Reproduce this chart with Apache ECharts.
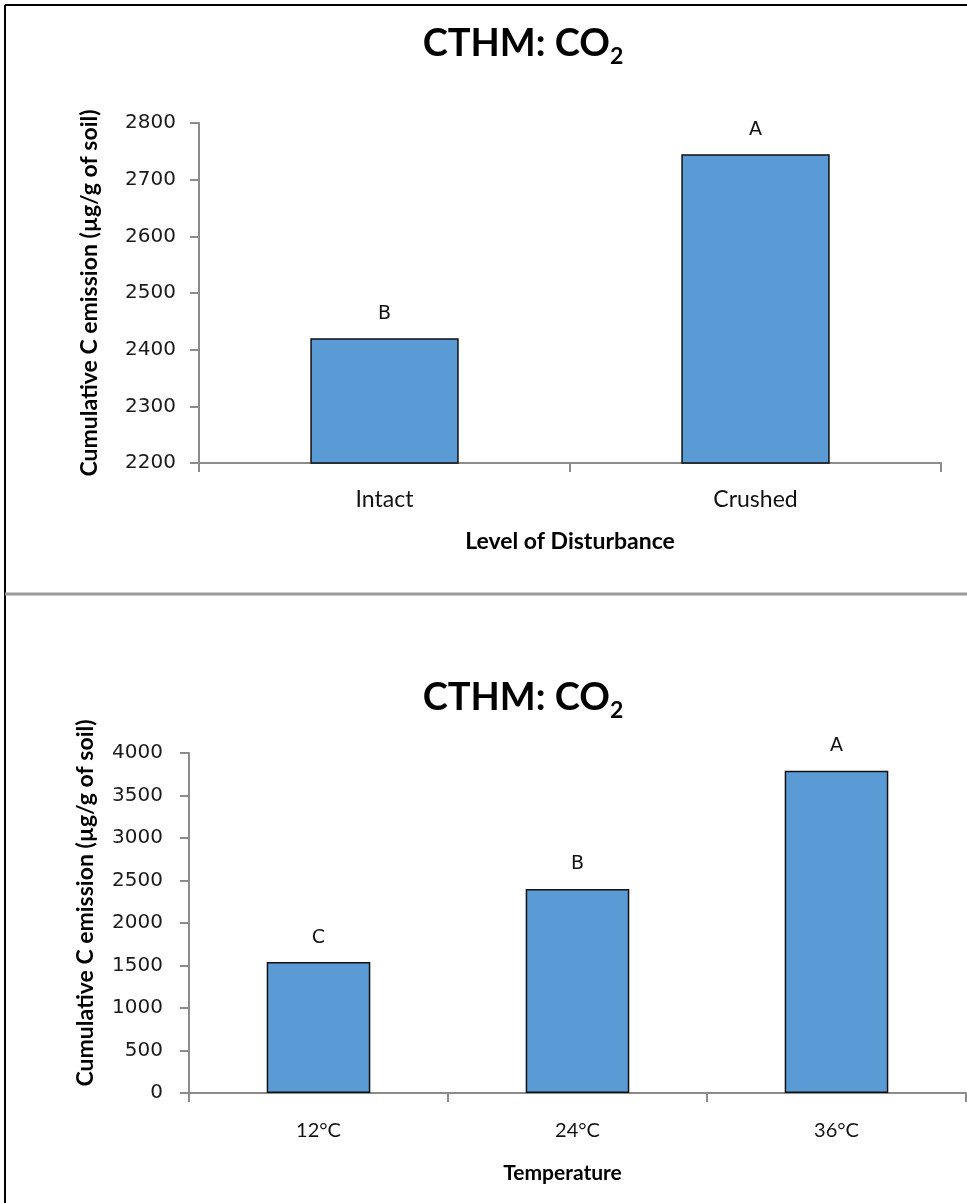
<!DOCTYPE html>
<html>
<head>
<meta charset="utf-8">
<script src="https://cdn.jsdelivr.net/npm/echarts/dist/echarts.min.js"></script>
<style>
  html, body { margin: 0; padding: 0; background: #fff; }
  #chartBox { width: 967px; height: 1203px; }
</style>
</head>
<body>
<div id="chartBox"></div>
<script>
  // top panel: level of disturbance
  var disturbance = ['Intact', 'Crushed'];
  var disturbanceValues = [2420, 2745];
  var disturbanceLetters = ['B', 'A'];
  var disturbanceTicks = [2200, 2300, 2400, 2500, 2600, 2700, 2800];

  // bottom panel: temperature
  var temperature = ['12°C', '24°C', '36°C'];
  var temperatureValues = [1540, 2400, 3790];
  var temperatureLetters = ['C', 'B', 'A'];
  var temperatureTicks = [0, 500, 1000, 1500, 2000, 2500, 3000, 3500, 4000];

  var yName = 'Cumulative C emission (µg/g of soil)';
  var barColor = '#5B9BD5';
  var axisGray = '#8c8c8c';
  var narrow = 'Lato';
  var labelFont = 'DejaVu Sans';

  var titleRich = {
    a: { fontFamily: narrow, fontWeight: 'bold', fontSize: 38, color: '#000', lineHeight: 48, verticalAlign: 'middle' },
    s: { fontFamily: narrow, fontWeight: 'bold', fontSize: 23, color: '#000', lineHeight: 22, verticalAlign: 'bottom' }
  };

  // s = per panel sizes {label, name, labelMargin, nameGap, namePad}
  function makeX(idx, cats, name, s) {
    return {
      type: 'category',
      gridIndex: idx,
      data: cats,
      name: name,
      nameLocation: 'middle',
      nameGap: s.nameGap,
      nameTextStyle: { fontFamily: narrow, fontWeight: 'bold', fontSize: s.name, color: '#000', padding: s.namePad },
      axisLine: { lineStyle: { color: axisGray, width: 2 } },
      axisTick: { show: true, length: 9, lineStyle: { color: axisGray, width: 2 } },
      axisLabel: { fontFamily: narrow, fontSize: s.label, color: '#111', margin: s.labelMargin }
    };
  }

  function makeY(idx, ticks, name, gap, margin, pad) {
    return {
      type: 'value',
      gridIndex: idx,
      min: ticks[0],
      max: ticks[ticks.length - 1],
      interval: ticks[1] - ticks[0],
      name: name,
      nameLocation: 'middle',
      nameGap: gap,
      nameTextStyle: { fontFamily: narrow, fontWeight: 'bold', fontSize: 23, color: '#000', padding: pad },
      splitLine: { show: false },
      axisLine: { show: true, lineStyle: { color: axisGray, width: 2 } },
      axisTick: { show: true, length: 9, lineStyle: { color: axisGray, width: 2 } },
      axisLabel: {
        fontFamily: labelFont, fontSize: 20, color: '#1a1a1a', margin: margin,
        formatter: function (v) { return String(v); }   // no thousands comma
      }
    };
  }

  function makeBar(idx, values, letters) {
    return {
      type: 'bar',
      xAxisIndex: idx,
      yAxisIndex: idx,
      data: values,
      barWidth: '40%',
      itemStyle: { color: barColor, borderColor: '#111', borderWidth: 1.5 },
      label: {
        show: true,
        position: 'top',
        distance: 15,
        fontFamily: labelFont,
        fontSize: 19,
        color: '#111',
        formatter: function (p) { return letters[p.dataIndex]; }
      }
    };
  }

  var chart = echarts.init(document.getElementById('chartBox'), null, { renderer: 'canvas' });

  var option = {
    animation: false,
    backgroundColor: '#fff',
    title: [
      { text: '{a|CTHM: CO}{s|2}', left: 518, textAlign: 'center', top: 15, textStyle: { rich: titleRich } },
      { text: '{a|CTHM: CO}{s|2}', left: 518, textAlign: 'center', top: 669, textStyle: { rich: titleRich } }
    ],
    grid: [
      { left: 199, top: 123, width: 742, height: 340 },
      { left: 189, top: 753, width: 777, height: 340 }
    ],
    xAxis: [
      makeX(0, disturbance, 'Level of Disturbance', { label: 23, name: 23, labelMargin: 25, nameGap: 67, namePad: 0 }),
      makeX(1, temperature, 'Temperature', { label: 20, name: 21, labelMargin: 28, nameGap: 70, namePad: [0, 30, 0, 0] })
    ],
    yAxis: [
      makeY(0, disturbanceTicks, yName, 98, 23, 0),
      makeY(1, temperatureTicks, yName, 92, 26, [0, 0, 0, 40])
    ],
    series: [
      makeBar(0, disturbanceValues, disturbanceLetters),
      makeBar(1, temperatureValues, temperatureLetters)
    ],
    // picture frame and divider between the two panels
    graphic: [
      { type: 'line', shape: { x1: 5, y1: 5, x2: 967, y2: 5 }, style: { stroke: '#000', lineWidth: 2 } },
      { type: 'line', shape: { x1: 5, y1: 5, x2: 5, y2: 1203 }, style: { stroke: '#000', lineWidth: 2 } },
      { type: 'line', shape: { x1: 5, y1: 594, x2: 967, y2: 594 }, style: { stroke: '#9a9a9a', lineWidth: 3 } }
    ]
  };

  chart.setOption(option);
</script>
</body>
</html>
